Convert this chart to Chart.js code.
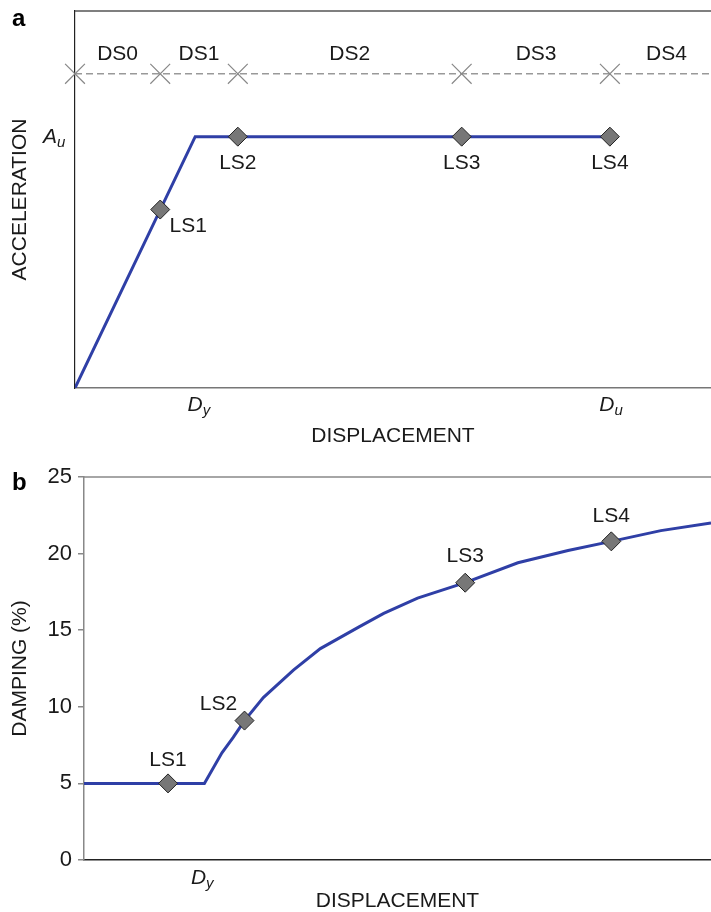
<!DOCTYPE html>
<html>
<head>
<meta charset="utf-8">
<script src="https://cdn.jsdelivr.net/npm/chart.js@4.4.0/dist/chart.umd.min.js"></script>
<style>
  body { margin: 0; background: #fff; }
  .panel { position: absolute; left: 0; width: 711px; }
  #panelA { top: 0; height: 455px; }
  #panelB { top: 455px; height: 457px; }
</style>
</head>
<body>
<div class="panel" id="panelA"><canvas id="capacityChart"></canvas></div>
<div class="panel" id="panelB"><canvas id="dampingChart"></canvas></div>
<script>
// displacement runs 0..100 (relative units), acceleration normalised so Au = 1
const limitStates = ['LS1', 'LS2', 'LS3', 'LS4'];
const lsDisp = [13.4, 25.6, 60.8, 84.1];
const lsAccel = [0.71, 1, 1, 1];
const lsDamping = [5, 9.1, 18.1, 20.8];

// bilinear capacity curve
const capacityDisp = [0, 18.9, 84.1];
const capacityAccel = [0, 1, 1];

// damage state ranges along the displacement axis
const damageStates = ['DS0', 'DS1', 'DS2', 'DS3', 'DS4'];
const dsBounds = [0, 13.4, 25.6, 60.8, 84.1];
const dsLabelAt = [6.7, 19.5, 43.2, 72.5, 93];
const dsLevel = 1.25;

// effective damping vs displacement
const dampingDisp = [0, 19.2, 22, 23.8, 25.6, 28.6, 33.4, 37.7, 43.8, 47.8, 53.2, 60.8, 69.2, 77.2, 84.1, 92, 100];
const dampingPct = [5, 5, 7, 8.0, 9.1, 10.6, 12.4, 13.8, 15.2, 16.1, 17.1, 18.1, 19.4, 20.2, 20.8, 21.5, 22.0];

const yieldDisp = 18.9;    // Dy
const ultimateDisp = 84.1; // Du
const accelUlt = 1;        // Au

const FONT = '"Liberation Sans", Arial, Helvetica, sans-serif';
const FONT_SIZE = 21;
const TEXT = '#1a1a1a';
const BLUE = '#2f3fa6';

Chart.defaults.font.family = FONT;
Chart.defaults.color = TEXT;

function pts(xs, ys) {
    return xs.map((x, i) => ({ x: x, y: ys[i] }));
}

// italic symbol with a smaller italic subscript, main glyph centred on x
function symbolWithSub(ctx, x, y, main, sub) {
    ctx.save();
    ctx.fillStyle = TEXT;
    ctx.textBaseline = 'middle';
    ctx.font = 'italic ' + FONT_SIZE + 'px ' + FONT;
    const w = ctx.measureText(main).width;
    ctx.textAlign = 'center';
    ctx.fillText(main, x, y);
    ctx.font = 'italic 15px ' + FONT;
    ctx.textAlign = 'left';
    ctx.fillText(sub, x + w / 2, y + 6);
    ctx.restore();
}

function label(ctx, text, x, y) {
    ctx.save();
    ctx.fillStyle = TEXT;
    ctx.font = FONT_SIZE + 'px ' + FONT;
    ctx.textAlign = 'center';
    ctx.textBaseline = 'middle';
    ctx.fillText(text, x, y);
    ctx.restore();
}

function panelLetter(ctx, letter, x, y) {
    ctx.save();
    ctx.fillStyle = '#000';
    ctx.font = 'bold 24px ' + FONT;
    ctx.textAlign = 'left';
    ctx.textBaseline = 'alphabetic';
    ctx.fillText(letter, x, y);
    ctx.restore();
}

function topBorder(chart, color) {
    const { ctx, chartArea } = chart;
    ctx.save();
    ctx.strokeStyle = color;
    ctx.lineWidth = 1.5;
    ctx.beginPath();
    ctx.moveTo(chartArea.left, chartArea.top);
    ctx.lineTo(chartArea.right, chartArea.top);
    ctx.stroke();
    ctx.restore();
}

const diamondStyle = {
    showLine: false,
    pointStyle: 'rectRot',
    pointRadius: 9.5,
    pointBackgroundColor: '#777777',
    pointBorderColor: '#222222',
    pointBorderWidth: 1,
    clip: false
};

const axisTitleFont = { size: FONT_SIZE, lineHeight: 1 };

// ---- panel a: capacity curve ----
const capacityExtras = {
    id: 'capacityExtras',
    afterDatasetsDraw(chart) {
        const { ctx, scales: { x, y } } = chart;
        topBorder(chart, '#555');
        damageStates.forEach((ds, i) => {
            label(ctx, ds, x.getPixelForValue(dsLabelAt[i]), y.getPixelForValue(dsLevel) - 20);
        });
        limitStates.forEach((ls, i) => {
            const px = x.getPixelForValue(lsDisp[i]);
            const py = y.getPixelForValue(lsAccel[i]);
            if (i === 0) label(ctx, ls, px + 28, py + 17);
            else label(ctx, ls, px, py + 27);
        });
        symbolWithSub(ctx, 50, y.getPixelForValue(accelUlt), 'A', 'u');
        symbolWithSub(ctx, x.getPixelForValue(yieldDisp), 405, 'D', 'y');
        symbolWithSub(ctx, x.getPixelForValue(ultimateDisp) - 3, 405, 'D', 'u');
        panelLetter(ctx, 'a', 12, 26);
    }
};

new Chart(document.getElementById('capacityChart'), {
    type: 'scatter',
    data: {
        datasets: [
            Object.assign({ data: pts(lsDisp, lsAccel) }, diamondStyle),
            {
                data: pts(capacityDisp, capacityAccel),
                showLine: true,
                borderColor: BLUE,
                borderWidth: 3,
                pointRadius: 0
            },
            {
                data: pts(dsBounds.concat([100]), dsBounds.map(() => dsLevel).concat([dsLevel])),
                showLine: true,
                borderColor: '#999999',
                borderWidth: 1.5,
                borderDash: [7, 4],
                pointStyle: 'crossRot',
                pointRadius: dsBounds.map(() => 14).concat([0]),
                pointBorderColor: '#888888',
                pointBorderWidth: 1.2,
                clip: false
            }
        ]
    },
    options: {
        responsive: true,
        maintainAspectRatio: false,
        animation: false,
        devicePixelRatio: 1,
        layout: { autoPadding: false, padding: { top: 11, right: 0, left: 0, bottom: 0 } },
        plugins: { legend: { display: false }, tooltip: { enabled: false } },
        scales: {
            x: {
                type: 'linear', min: 0, max: 100,
                ticks: { display: false },
                grid: { display: false },
                border: { color: '#777', width: 1.5 },
                title: { display: true, text: 'DISPLACEMENT', font: axisTitleFont, padding: { top: 0, bottom: 8 }, color: TEXT },
                afterFit(s) { s.height = 67; }
            },
            y: {
                type: 'linear', min: 0, max: 1.5,
                ticks: { display: false },
                grid: { display: false },
                border: { color: '#222', width: 1.2 },
                title: { display: true, text: 'ACCELERATION', font: axisTitleFont, padding: { top: 10, bottom: 0 }, color: TEXT },
                afterFit(s) { s.width = 75; }
            }
        }
    },
    plugins: [capacityExtras]
});

// ---- panel b: damping ----
const dampingExtras = {
    id: 'dampingExtras',
    afterDatasetsDraw(chart) {
        const { ctx, scales: { x, y } } = chart;
        topBorder(chart, '#888');
        const offsets = [[0, -23], [-26, -16], [0, -27], [0, -25]];
        limitStates.forEach((ls, i) => {
            label(ctx, ls, x.getPixelForValue(lsDisp[i]) + offsets[i][0], y.getPixelForValue(lsDamping[i]) + offsets[i][1]);
        });
        symbolWithSub(ctx, x.getPixelForValue(yieldDisp) - 4, 423, 'D', 'y');
        panelLetter(ctx, 'b', 12, 35);
    }
};

new Chart(document.getElementById('dampingChart'), {
    type: 'scatter',
    data: {
        datasets: [
            Object.assign({ data: pts(lsDisp, lsDamping) }, diamondStyle),
            {
                data: pts(dampingDisp, dampingPct),
                showLine: true,
                borderColor: BLUE,
                borderWidth: 3,
                pointRadius: 0
            }
        ]
    },
    options: {
        responsive: true,
        maintainAspectRatio: false,
        animation: false,
        devicePixelRatio: 1,
        layout: { autoPadding: false, padding: { top: 22, right: 0, left: 0, bottom: 0 } },
        plugins: { legend: { display: false }, tooltip: { enabled: false } },
        scales: {
            x: {
                type: 'linear', min: 0, max: 100,
                ticks: { display: false },
                grid: { display: false },
                border: { color: '#222', width: 1.5 },
                title: { display: true, text: 'DISPLACEMENT', font: axisTitleFont, padding: { top: 0, bottom: 0 }, color: TEXT },
                afterFit(s) { s.height = 52; }
            },
            y: {
                type: 'linear', min: 0, max: 25,
                ticks: { stepSize: 5, font: { size: 22 }, color: TEXT, padding: 6 },
                grid: { drawOnChartArea: false, drawTicks: true, tickLength: 6, color: '#888', lineWidth: 1.5 },
                border: { color: '#888', width: 1.5 },
                title: { display: true, text: 'DAMPING (%)', font: axisTitleFont, padding: { top: 10, bottom: 0 }, color: TEXT },
                afterFit(s) { s.width = 84; }
            }
        }
    },
    plugins: [dampingExtras]
});
</script>
</body>
</html>
